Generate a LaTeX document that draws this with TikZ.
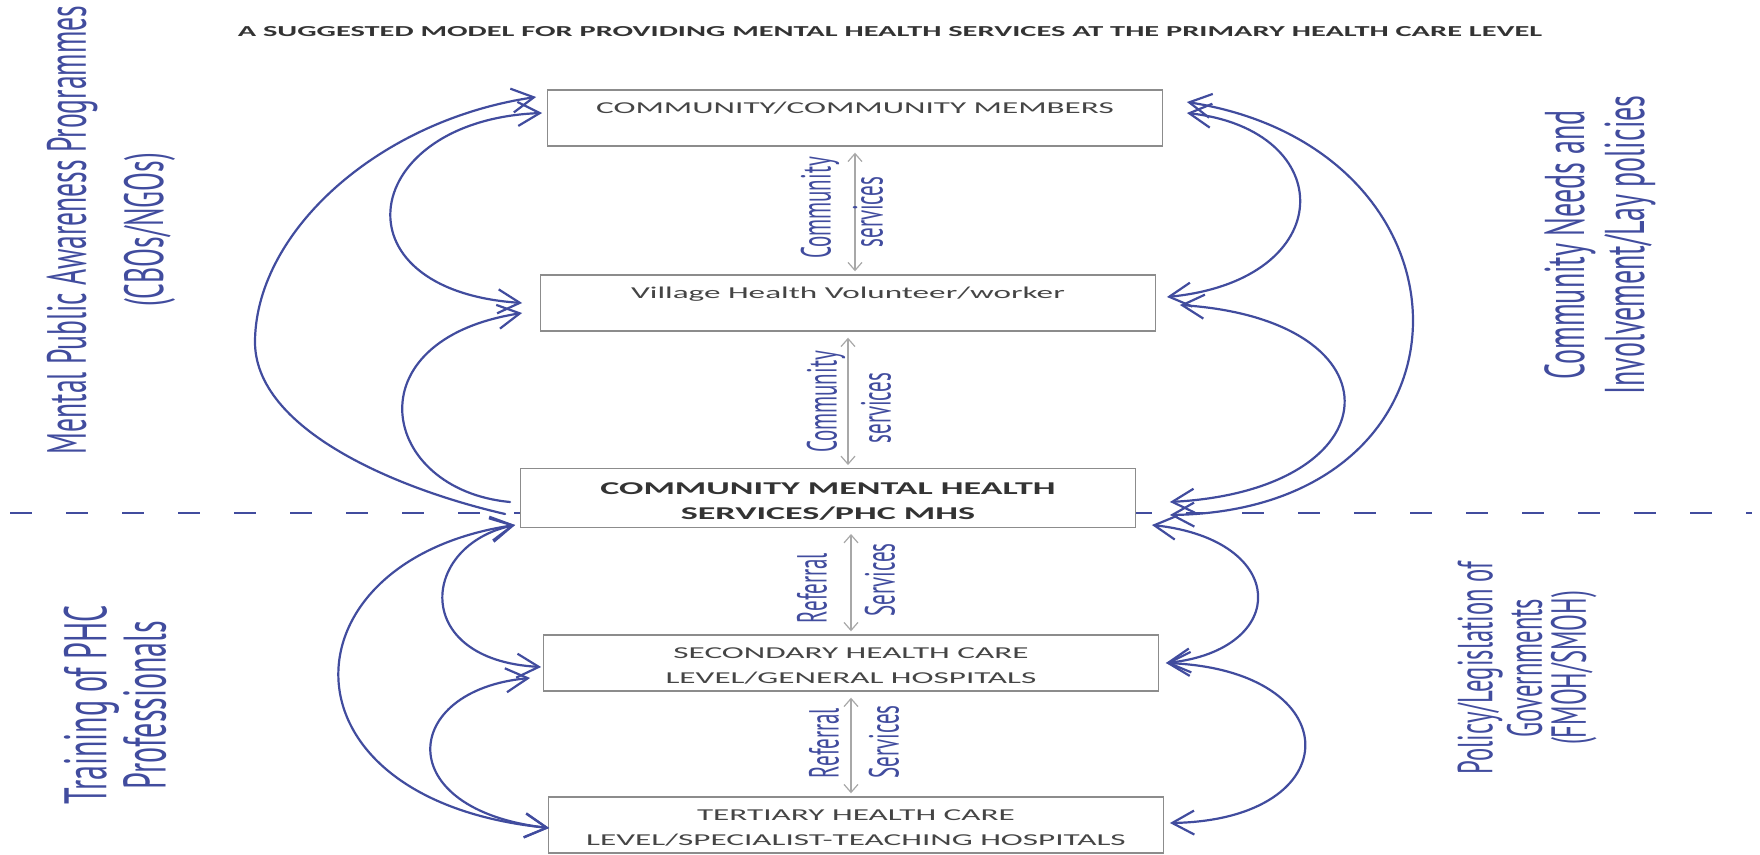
\documentclass[tikz,border=0pt]{standalone}
\usepackage{fontspec}
\setmainfont{Carlito}
\newfontfamily\handfont{PT Sans}
\usetikzlibrary{arrows.meta,calc}
\definecolor{pen}{HTML}{414C9E}
\definecolor{ink}{HTML}{333333}
\definecolor{boxtext}{HTML}{454545}
\definecolor{boxline}{HTML}{8C8C8C}
\definecolor{flowgray}{HTML}{A8A8A8}
\begin{document}
\begin{tikzpicture}[x=0.25pt,y=-0.5pt,xscale=2,transform shape,
  >={Straight Barb[length=11pt,width=12pt]},
  box/.style={draw=boxline,fill=white,line width=0.7pt,minimum width=153.75pt,minimum height=28pt,
    inner sep=0pt,text height=24.25pt,align=center,text=boxtext,font=\fontsize{8.3}{12.5}\selectfont},
  hand/.style={rotate=90,inner sep=0pt,align=center,text=pen},
  tag/.style={hand,font=\handfont\fontsize{10.5}{12}\selectfont},
  link/.style={pen,line width=1.1pt,line cap=round},
  flow/.style={flowgray,line width=0.6pt,shorten <=3pt,shorten >=1.5pt,
    {Straight Barb[length=4pt,width=7pt]}-{Straight Barb[length=4pt,width=7pt]}}]
\useasboundingbox (0,0) rectangle (1760,855);
\node[font=\bfseries\fontsize{7.6}{9}\selectfont,text=ink] (title) at (890,32)
  {A SUGGESTED MODEL FOR PROVIDING MENTAL HEALTH SERVICES AT THE PRIMARY HEALTH CARE LEVEL};

\draw[pen,line width=1pt,dash pattern=on 11pt off 17pt] (10,513) -- (1752,513);

% levels of care
\node[box] (comm) at (855,118) {\strut COMMUNITY/COMMUNITY MEMBERS\\\strut};
\node[box] (vhw) at (848,303) {\strut Village Health Volunteer/worker\\\strut};
\node[box,minimum height=29pt,text height=25.5pt,text=ink,font=\bfseries\fontsize{9}{12.5}\selectfont] (cmhs) at (828,498)
  {\strut COMMUNITY MENTAL HEALTH\\\strut SERVICES/PHC MHS};
\node[box] (sec) at (851,663) {\strut SECONDARY HEALTH CARE\\\strut LEVEL/GENERAL HOSPITALS};
\node[box] (ter) at (856,825) {\strut TERTIARY HEALTH CARE\\\strut LEVEL/SPECIALIST-TEACHING HOSPITALS};

% services between the levels
\draw[flow] (comm.south) -- (comm.south |- vhw.north);
\draw[flow] (vhw.south) -- (vhw.south |- cmhs.north);
\draw[flow] (sec.north |- cmhs.south) -- (sec.north);
\draw[flow] (sec.south) -- (sec.south |- ter.north);
\node[tag] (cs1) at (820,208) {Community};
\node[tag] (sv1) at (868,212) {services};
\node[tag] (cs2) at (826,402) {Community};
\node[tag] (sv2) at (876,408) {services};
\node[tag] (rf1) at (812,588) {Referral};
\node[tag] (sv3) at (880,580) {Services};
\node[tag] (rf2) at (824,743) {Referral};
\node[tag] (sv4) at (884,742) {Services};

% side notes
\node[hand,font=\handfont\fontsize{13.8}{19.3}\selectfont] (aware) at (111,230)
  {Mental Public Awareness Programmes\\(CBOs/NGOs)};
\node[hand,font=\handfont\fontsize{15}{13.5}\selectfont] (train) at (115,705)
  {Training of PHC\\Professionals};
\node[hand,font=\handfont\fontsize{14}{15}\selectfont] (needs) at (1600,245)
  {Community Needs and\\Involvement/Lay policies};
\node[hand,font=\handfont\fontsize{12.3}{11}\selectfont] (policy) at (1527,668)
  {Policy/Legislation of\\Governments\\(FMOH/SMOH)};

% left loops
\draw[link,->] ($(cmhs.west)+(-14,16)$) .. controls (400,490) and (253,430) .. (255,340)
  .. controls (257,230) and (380,120) .. ($(comm.west)+(-10,-21)$);
\draw[link,<->] ($(vhw.west)+(-17,0)$) .. controls (330,290) and (360,120) .. ($(comm.west)+(-4,-5)$);
\draw[link,->] ($(cmhs.west)+(-9,4)$) .. controls (380,490) and (350,340) .. ($(vhw.west)+(-17,10)$);
\draw[link,<->] ($(cmhs.west)+(-4,27)$) .. controls (420,545) and (410,660) .. ($(sec.west)+(-1,4)$);
\draw[link,<->] ($(cmhs.west)+(-4,27)$) .. controls (280,560) and (270,800) .. ($(ter.west)+(2,3)$);
\draw[link,<->] ($(sec.west)+(-12,15)$) .. controls (400,690) and (390,810) .. ($(ter.west)+(2,3)$);

% right loops
\draw[link,<->] ($(comm.east)+(23,-16)$) .. controls (1490,150) and (1490,510) .. ($(cmhs.east)+(33,17)$);
\draw[link,<->] ($(comm.east)+(23,-5)$) .. controls (1340,130) and (1340,280) .. ($(vhw.east)+(10,-6)$);
\draw[link,<->] ($(vhw.east)+(23,2)$) .. controls (1405,320) and (1395,490) .. ($(cmhs.east)+(33,4)$);
\draw[link,<->] ($(cmhs.east)+(15,27)$) .. controls (1290,540) and (1290,650) .. ($(sec.east)+(6,0)$);
\draw[link,<->] ($(sec.east)+(6,0)$) .. controls (1350,670) and (1350,820) .. ($(ter.east)+(5,-2)$);
\end{tikzpicture}
\end{document}
